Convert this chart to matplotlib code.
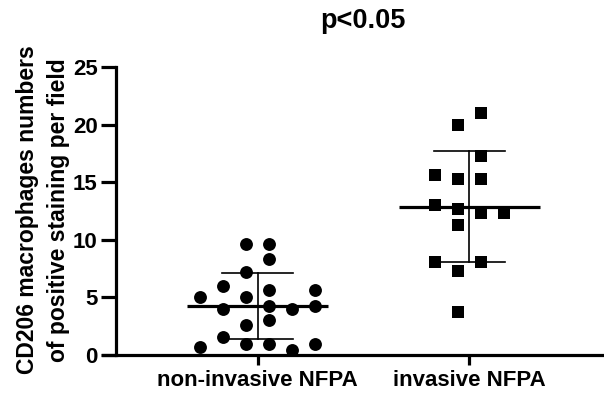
import numpy as np
import matplotlib
matplotlib.use("Agg")
import matplotlib.pyplot as plt

plt.rcParams['font.family'] = ['Liberation Sans', 'DejaVu Sans']
plt.rcParams['font.weight'] = 'bold'

# data
groups = ["non-invasive NFPA", "invasive NFPA"]
non_invasive = [9.6, 9.6, 8.3, 7.2, 6.0, 5.6, 5.6, 5.0, 5.0, 4.0, 4.25,
                4.0, 4.25, 2.6, 3.0, 1.6, 0.7, 0.95, 0.95, 0.45, 0.95]
invasive = [21.0, 20.0, 17.3, 15.6, 15.3, 15.3, 13.0, 12.7, 12.3, 12.3,
            11.3, 8.05, 8.05, 7.3, 3.7]
title = "p<0.05"
ylabel = "CD206 macrophages numbers\nof positive staining per field"
yticks = [0, 5, 10, 15, 20, 25]

# horizontal spread (column slots) of the scattered points
non_inv_slot = [-0.5, 0.5, 0.5, -0.5, -1.5, 0.5, 2.5, -2.5, -0.5, -1.5, 0.5,
                1.5, 2.5, -0.5, 0.5, -1.5, -2.5, -0.5, 0.5, 1.5, 2.5]
inv_slot = [0.5, -0.5, 0.5, -1.5, -0.5, 0.5, -1.5, -0.5, 0.5, 1.5,
            -0.5, -1.5, 0.5, -0.5, -0.5]

fig = plt.figure(figsize=(6.04, 3.98), dpi=100)
ax = fig.add_axes([103 / 604, 43 / 398, 501 / 604, 288 / 398])

step = 0.109
for i, (vals, slots, mk) in enumerate([(non_invasive, non_inv_slot, 'o'),
                                       (invasive, inv_slot, 's')]):
    x0 = i + 1
    vals = np.array(vals)
    xs = x0 + np.array(slots) * step
    ax.scatter(xs, vals, marker=mk, s=86 if mk == 'o' else 74,
               color='black', linewidths=0, zorder=3, clip_on=False)
    m = vals.mean()
    sd = vals.std(ddof=1)
    ax.plot([x0 - 0.333, x0 + 0.333], [m, m], color='black', lw=2.3,
            zorder=4, solid_capstyle='butt')
    ax.plot([x0, x0], [m - sd, m + sd], color='black', lw=1.2, zorder=4)
    for v in (m - sd, m + sd):
        ax.plot([x0 - 0.168, x0 + 0.168], [v, v], color='black', lw=1.2,
                zorder=4)

ax.set_xlim(0.269, 2.637)
ax.set_ylim(0, 25)
ax.spines['top'].set_visible(False)
ax.spines['right'].set_visible(False)
ax.spines['left'].set_position(('data', 0.330))
for s in ('left', 'bottom'):
    ax.spines[s].set_linewidth(2.3)
    ax.spines[s].set_zorder(5)

ax.set_yticks(yticks)
ax.set_xticks([1, 2])
ax.set_xticklabels(groups)
ax.tick_params(axis='y', length=11, width=2.3, pad=2, labelsize=16)
ax.tick_params(axis='x', length=7, width=2.3, pad=4, labelsize=16)
for lab in ax.get_xticklabels() + ax.get_yticklabels():
    lab.set_fontweight('bold')

fig.text(43 / 604, 1 - 210 / 398, ylabel, rotation=90, ha='center',
         va='center', multialignment='center', fontsize=16.5,
         fontweight='bold', linespacing=1.4)
fig.text(363 / 604, 1 - 21 / 398, title, ha='center', va='center',
         fontsize=19.5, fontweight='bold')

fig.savefig("out.png", dpi=100)
